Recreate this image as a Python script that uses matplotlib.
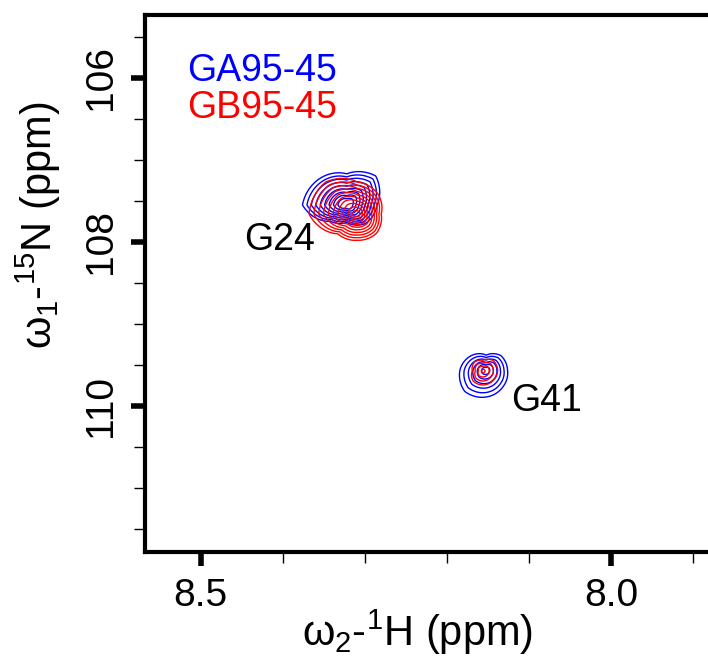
import numpy as np
from matplotlib import pyplot as plt
from matplotlib.ticker import MultipleLocator


# Cross peaks: centre (1H ppm, 15N ppm), height, and outer contour radius in
# eight directions (right, up-right, up, up-left, left, down-left, down, down-right)
# measured in units of 0.01 ppm (1H) / 0.1 ppm (15N)
ga_h = [8.322, 8.152]
ga_n = [107.549, 109.56]
ga_amp = [1.0, 0.6]
ga_radii = [[3.7, 5.0, 3.8, 4.6, 5.4, 2.8, 2.1, 3.2],
			[2.6, 2.5, 1.8, 2.5, 3.2, 3.7, 3.3, 2.9]]

gb_h = [8.309, 8.156]
gb_n = [107.659, 109.573]
gb_amp = [1.0, 0.35]
gb_radii = [[2.9, 3.5, 3.9, 5.5, 5.9, 3.4, 3.2, 3.3],
			[1.8, 1.8, 1.3, 1.5, 1.3, 1.7, 1.7, 1.7]]

ga_levels = [0.0, 0.1, 0.2, 0.3, 0.4, 0.5, 0.6, 0.7, 0.8]
gb_levels = [0.0, 0.1, 0.2, 0.3, 0.4, 0.5, 0.6, 0.7, 0.8, 0.9]

labels = ['G24', 'G41']
label_h = [8.404, 8.078]
label_n = [107.98, 109.94]

plt.rcParams['font.family'] = ['Liberation Sans', 'DejaVu Sans']
plt.rcParams['mathtext.fontset'] = 'custom'
plt.rcParams['mathtext.rm'] = 'Liberation Sans'
plt.rcParams['mathtext.it'] = 'Liberation Sans'


def spectrum(hx, ny, centers_h, centers_n, amps, radii):
	z = np.full_like(hx, -1.0)
	angles = np.arange(0, 360, 45)
	for ch, cn, a, rad in zip(centers_h, centers_n, amps, radii):
		u = (ch - hx) / 0.01
		v = (cn - ny) / 0.1
		theta = np.degrees(np.arctan2(v, u)) % 360
		s = np.interp(theta, angles, rad, period=360)
		z = np.maximum(z, a * (1 - np.hypot(u, v) / s))
	return z


h_axis = np.linspace(7.85, 8.6, 900)
n_axis = np.linspace(105.0, 112.0, 900)
HX, NY = np.meshgrid(h_axis, n_axis)

z_ga = spectrum(HX, NY, ga_h, ga_n, ga_amp, ga_radii)
z_gb = spectrum(HX, NY, gb_h, gb_n, gb_amp, gb_radii)

fig = plt.figure(figsize=(7.08, 6.64), dpi=100)
ax = fig.add_axes([145 / 708, 112 / 664, 570 / 708, 537.5 / 664])

ax.contour(HX, NY, z_ga, levels=ga_levels, colors='#0000ff', linewidths=1.0)
ax.contour(HX, NY, z_gb, levels=gb_levels, colors='#ff0000', linewidths=1.0)

for lab, x, y in zip(labels, label_h, label_n):
	ax.text(x, y, lab, fontsize=27, ha='center', va='center')

ax.text(8.517, 105.91, 'GA95-45', color='#0000ff', fontsize=27, ha='left', va='center')
ax.text(8.517, 106.37, 'GB95-45', color='#ff0000', fontsize=27, ha='left', va='center')

ax.set_xlim(8.568, 7.873)
ax.set_ylim(111.78, 105.226)

ax.set_xticks([8.5, 8.0])
ax.set_xticklabels(['8.5', '8.0'])
ax.xaxis.set_minor_locator(MultipleLocator(0.1))
ax.set_yticks([106, 108, 110])
ax.set_yticklabels(['106', '108', '110'], rotation=90, va='center')
ax.yaxis.set_minor_locator(MultipleLocator(0.5))

ax.tick_params(which='major', direction='out', length=10, width=4, labelsize=28, pad=9)
ax.tick_params(which='minor', direction='out', length=8, width=1)
ax.tick_params(top=False, right=False, which='both')
for side in ['left', 'bottom', 'top']:
	ax.spines[side].set_linewidth(3)
ax.spines['right'].set_visible(False)

ax.set_xlabel(r'$\omega_2$-$^1$H (ppm)', fontsize=30)
ax.set_ylabel(r'$\omega_1$-$^{15}$N (ppm)', fontsize=30)
ax.xaxis.set_label_coords(0.479, -0.149)
ax.yaxis.set_label_coords(-0.188, 0.608)
ax.xaxis.label.set_va('center')
ax.yaxis.label.set_va('center')

fig.savefig('out.png', dpi=100)
